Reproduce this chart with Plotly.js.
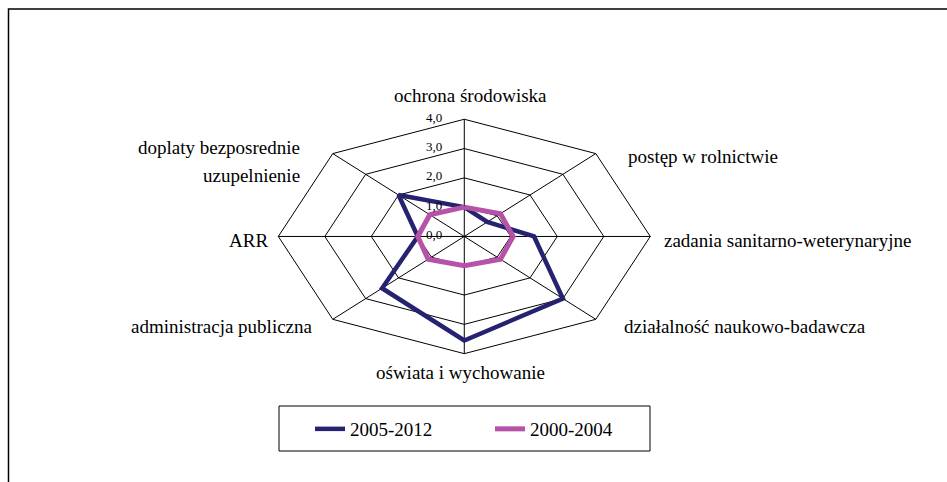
<!DOCTYPE html>
<html>
<head>
<meta charset="utf-8">
<script src="https://cdn.plot.ly/plotly-3.0.1.min.js"></script>
<style>
  html, body { margin: 0; padding: 0; background: #fff; }
  #chart { width: 947px; height: 482px; }
</style>
</head>
<body>
<div id="chart"></div>
<script>
// categories clockwise from the top
const categories = [
    'ochrona środowiska',
    'postęp w rolnictwie',
    'zadania sanitarno-weterynaryjne',
    'działalność naukowo-badawcza',
    'oświata i wychowanie',
    'administracja publiczna',
    'ARR',
    'doplaty bezposrednie<br>uzupelnienie',
];
const seriesNames = ['2005-2012', '2000-2004'];
const values2005 = [1.0, 0.7, 1.5, 3.0, 3.55, 2.5, 1.0, 2.0];
const values2000 = [1.0, 1.1, 1.05, 1.1, 1.0, 1.1, 1.0, 1.05];
const rTicks = [0, 1, 2, 3, 4];
const rTickLabels = ['0,0', '1,0', '2,0', '3,0', '4,0'];

const FONT = 'Liberation Serif';
const rMax = rTicks[rTicks.length - 1];

// polar -> cartesian, first category at the top, going clockwise
function toXY(vals) {
    let x = [], y = [];
    vals.forEach((r, i) => {
        let a = i / vals.length * 2 * Math.PI;
        x.push(r * Math.sin(a));
        y.push(r * Math.cos(a));
    });
    // close the polygon
    x.push(x[0]);
    y.push(y[0]);
    return { x: x, y: y };
}

let traces = [];

// grid rings
rTicks.slice(1).forEach(t => {
    let p = toXY(categories.map(() => t));
    traces.push({
        x: p.x, y: p.y, mode: 'lines', type: 'scatter',
        line: { color: '#000', width: 1 },
        hoverinfo: 'skip', showlegend: false,
    });
});

// spokes
categories.forEach((c, i) => {
    let a = i / categories.length * 2 * Math.PI;
    traces.push({
        x: [0, rMax * Math.sin(a)], y: [0, rMax * Math.cos(a)],
        mode: 'lines', type: 'scatter',
        line: { color: '#000', width: 1 },
        hoverinfo: 'skip', showlegend: false,
    });
});

// data series
let p1 = toXY(values2005);
traces.push({
    x: p1.x, y: p1.y, mode: 'lines', type: 'scatter', name: seriesNames[0],
    line: { color: '#25226F', width: 4.5 },
});
let p2 = toXY(values2000);
traces.push({
    x: p2.x, y: p2.y, mode: 'lines', type: 'scatter', name: seriesNames[1],
    line: { color: '#B653A8', width: 5 },
});

// label placement around the outer ring (pixels)
const labelPlace = [
    { xa: 'center', dx: 6, dy: 24 },
    { xa: 'left', dx: 30, dy: -3 },
    { xa: 'left', dx: 12, dy: -4.5 },
    { xa: 'left', dx: 26, dy: -7 },
    { xa: 'center', dx: -4, dy: -19 },
    { xa: 'right', dx: -18, dy: -7 },
    { xa: 'right', dx: -8, dy: -4.5 },
    { xa: 'right', dx: -31, dy: -8 },
];

let annotations = [];
categories.forEach((c, i) => {
    let a = i / categories.length * 2 * Math.PI;
    let lines = c.split('<br>');
    lines.forEach((txt, k) => {
        annotations.push({
            x: rMax * Math.sin(a), y: rMax * Math.cos(a),
            xref: 'x', yref: 'y', text: txt, showarrow: false,
            xanchor: labelPlace[i].xa, yanchor: 'middle',
            xshift: labelPlace[i].dx,
            yshift: labelPlace[i].dy + ((lines.length - 1) / 2 - k) * 28,
            font: { family: FONT, size: 19, color: '#000' },
        });
    });
});

// radial tick labels
rTicks.forEach((t, i) => {
    annotations.push({
        x: 0, y: t, xref: 'x', yref: 'y', text: rTickLabels[i], showarrow: false,
        xanchor: 'right', yanchor: 'middle', xshift: -20, yshift: 2,
        font: { family: FONT, size: 13, color: '#000' },
    });
});

let layout = {
    width: 947,
    height: 482,
    margin: { l: 0, r: 0, t: 0, b: 0, pad: 0 },
    paper_bgcolor: '#fff',
    plot_bgcolor: '#fff',
    xaxis: { range: [-9.985, 10.381], visible: false, fixedrange: true },
    yaxis: { range: [-8.38, 8.07], visible: false, fixedrange: true },
    showlegend: true,
    legend: {
        orientation: 'h',
        x: 310 / 947, xanchor: 'left',
        y: 1 - 429 / 482, yanchor: 'middle',
        borderwidth: 0,
        bgcolor: 'rgba(0,0,0,0)',
        font: { family: FONT, size: 19, color: '#000' },
        entrywidth: 135,
        entrywidthmode: 'pixels',
    },
    annotations: annotations,
    shapes: [{
        // outer chart frame
        type: 'rect', xref: 'paper', yref: 'paper',
        x0: 8.5 / 947, x1: 1.05, y0: -0.05, y1: 1 - 9 / 482,
        line: { color: '#000', width: 1.5 },
    }, {
        // legend box
        type: 'rect', xref: 'paper', yref: 'paper',
        x0: 279 / 947, x1: 650 / 947, y0: 1 - 451 / 482, y1: 1 - 406 / 482,
        line: { color: '#000', width: 1 },
    }],
};

Plotly.newPlot('chart', traces, layout, { staticPlot: true, displayModeBar: false });
</script>
</body>
</html>
